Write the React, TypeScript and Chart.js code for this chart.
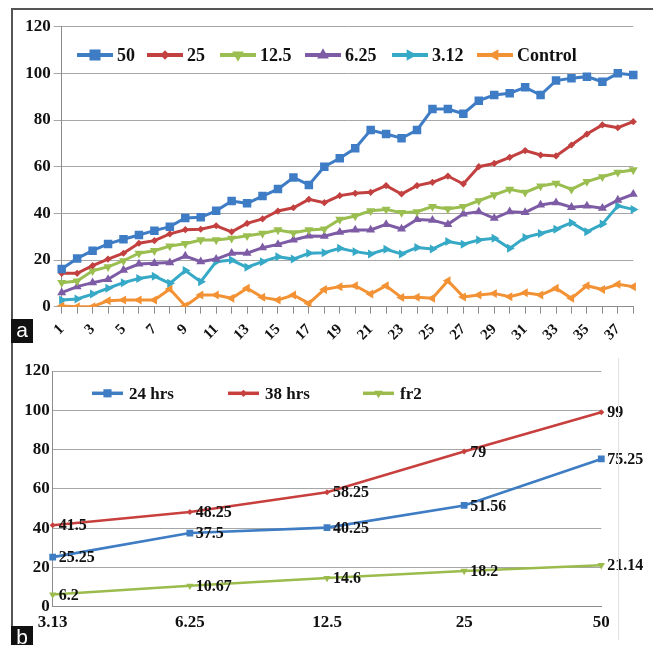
import React, { useEffect, useRef } from 'react';
import { Chart, registerables } from 'chart.js';

Chart.register(...registerables);

// ---------- Panel a data ----------
const daysA = ['1','2','3','4','5','6','7','8','9','10','11','12','13','14','15','16','17','18','19',
  '20','21','22','23','24','25','26','27','28','29','30','31','32','33','34','35','36','37','38'];

const series50 = [16.2, 20.7, 24, 26.9, 28.9, 30.7, 32.6, 34.3, 38, 38.3, 41.1, 45.3, 44.3, 47.4, 50.4, 55.4, 52.2, 60, 63.6,
  67.9, 75.7, 74, 72.2, 75.7, 84.7, 84.7, 82.7, 88.3, 90.7, 91.5, 94, 90.7, 96.9, 97.9, 98.6, 96.4, 100, 99.3];
const series25 = [14.3, 14.3, 17.6, 20.4, 22.9, 27.2, 28.3, 31.2, 33, 33.2, 34.7, 32.1, 35.7, 37.6, 41, 42.4, 46, 44.6, 47.6,
  48.6, 49, 51.9, 48.3, 51.9, 53.3, 56, 52.6, 60, 61.4, 64, 66.9, 65, 64.6, 69.3, 74, 77.9, 76.7, 79.3];
const series12_5 = [10.3, 11, 15.4, 17.1, 19.7, 22.9, 24, 26, 27, 28.6, 28.6, 29.3, 30.4, 31.4, 32.9, 31.7, 32.9, 33.3, 37.4,
  38.9, 41.1, 41.7, 40.3, 40.7, 42.9, 41.9, 42.9, 45.4, 47.9, 50.3, 49, 51.7, 52.9, 50.3, 53.6, 55.7, 57.6, 58.6];
const series6_25 = [6, 8.6, 10.3, 11.7, 15.7, 18.3, 18.6, 18.9, 21.7, 19.3, 20.4, 22.9, 22.9, 25.3, 26.7, 28.6, 30.3, 30.2, 31.9,
  32.9, 32.9, 35.3, 33.3, 37.4, 37.1, 35.3, 39.8, 40.7, 37.9, 40.7, 40.4, 43.6, 44.6, 42.6, 43.2, 42.2, 45.7, 48.2];
const series3_12 = [2.9, 3.3, 5.4, 7.9, 10.3, 12.1, 13.1, 10, 15.5, 10.7, 19.3, 20, 16.9, 19.3, 21.4, 20.4, 22.9, 23.1, 25,
  23.6, 22.6, 24.6, 22.6, 25.4, 24.7, 27.9, 26.8, 28.6, 29.3, 25, 29.7, 31.4, 33.2, 36, 32.1, 35.4, 43.2, 41.7];
const seriesControl = [0.3, 0, 0, 2.6, 2.9, 2.9, 2.9, 7.6, 0.3, 5, 5, 3.6, 7.9, 4, 2.9, 5, 1.4, 7.4, 8.6,
  9, 5.4, 9, 3.9, 4, 3.6, 11.1, 4.2, 5, 5.7, 4.3, 6, 5, 7.9, 3.6, 9, 7.4, 9.6, 8.6];
const namesA = ['50', '25', '12.5', '6.25', '3.12', 'Control'];

// ---------- Panel b data ----------
const concB = ['3.13', '6.25', '12.5', '25', '50'];
const hrs24 = [25.25, 37.5, 40.25, 51.56, 75.25];
const hrs38 = [41.5, 48.25, 58.25, 79, 99];
const fr2 = [6.2, 10.67, 14.6, 18.2, 21.14];
const namesB = ['24 hrs', '38 hrs', 'fr2'];

const FONT = '"Liberation Serif", "Times New Roman", serif';

function drawMarker(ctx: CanvasRenderingContext2D, style: string, rot: number, x: number, y: number, r: number, color: string) {
  ctx.save();
  ctx.fillStyle = color;
  ctx.beginPath();
  if (style === 'rect') {
    const s = Math.SQRT1_2 * r;
    ctx.rect(x - s, y - s, 2 * s, 2 * s);
  } else if (style === 'rectRot') {
    ctx.moveTo(x - r, y);
    ctx.lineTo(x, y - r);
    ctx.lineTo(x + r, y);
    ctx.lineTo(x, y + r);
    ctx.closePath();
  } else {
    let rad = (rot * Math.PI) / 180;
    ctx.moveTo(x + Math.sin(rad) * r, y - Math.cos(rad) * r);
    rad += (2 * Math.PI) / 3;
    ctx.lineTo(x + Math.sin(rad) * r, y - Math.cos(rad) * r);
    rad += (2 * Math.PI) / 3;
    ctx.lineTo(x + Math.sin(rad) * r, y - Math.cos(rad) * r);
    ctx.closePath();
  }
  ctx.fill();
  ctx.restore();
}

type LegendCfg = {
  y: number;
  starts: number[];
  sampleLen: number;
  textGap: number;
  font: string;
  lineWidth: number;
  markerScale: number;
};

function makeLegendPlugin(cfg: LegendCfg) {
  return {
    id: 'innerLegend',
    afterDraw(chart: any) {
      const ctx: CanvasRenderingContext2D = chart.ctx;
      chart.data.datasets.forEach((ds: any, i: number) => {
        const x0 = cfg.starts[i];
        const x1 = x0 + cfg.sampleLen;
        ctx.save();
        ctx.strokeStyle = ds.borderColor;
        ctx.lineWidth = cfg.lineWidth;
        ctx.beginPath();
        ctx.moveTo(x0, cfg.y);
        ctx.lineTo(x1, cfg.y);
        ctx.stroke();
        ctx.restore();
        drawMarker(ctx, ds.pointStyle, ds.pointRotation || 0, (x0 + x1) / 2, cfg.y, ds.pointRadius * cfg.markerScale, ds.borderColor);
        ctx.save();
        ctx.fillStyle = '#111';
        ctx.font = cfg.font;
        ctx.textAlign = 'left';
        ctx.textBaseline = 'middle';
        ctx.fillText(ds.label, x1 + cfg.textGap, cfg.y + 1);
        ctx.restore();
      });
    },
  };
}

const valueLabelPlugin = {
  id: 'valueLabels',
  afterDatasetsDraw(chart: any) {
    const ctx: CanvasRenderingContext2D = chart.ctx;
    ctx.save();
    ctx.fillStyle = '#111';
    ctx.font = `bold 16px ${FONT}`;
    ctx.textAlign = 'left';
    ctx.textBaseline = 'middle';
    chart.data.datasets.forEach((ds: any, i: number) => {
      const meta = chart.getDatasetMeta(i);
      meta.data.forEach((pt: any, j: number) => {
        ctx.fillText(String(ds.data[j]), pt.x + 6, pt.y + 1);
      });
    });
    ctx.restore();
  },
};

function ChartA() {
  const ref = useRef<HTMLCanvasElement>(null);
  useEffect(() => {
    if (!ref.current) return;
    const colors = ['#3E7CC5', '#C2403F', '#9BBE50', '#7E5CA5', '#36A9C6', '#F39234'];
    const styles = ['rect', 'rectRot', 'triangle', 'triangle', 'triangle', 'triangle'];
    const rots = [0, 0, 180, 0, 90, 270];
    const radii = [6, 3.6, 5.2, 5.2, 5.2, 5.2];
    const values = [series50, series25, series12_5, series6_25, series3_12, seriesControl];
    const chart = new Chart(ref.current, {
      type: 'line',
      data: {
        labels: daysA,
        datasets: values.map((d, i) => ({
          label: namesA[i],
          data: d,
          borderColor: colors[i],
          backgroundColor: colors[i],
          pointBackgroundColor: colors[i],
          pointBorderColor: colors[i],
          pointBorderWidth: 0,
          borderWidth: 3,
          pointStyle: styles[i],
          pointRotation: rots[i],
          pointRadius: radii[i],
          tension: 0,
          fill: false,
        })),
      },
      options: {
        responsive: false,
        maintainAspectRatio: false,
        animation: false,
        layout: { padding: { left: 0, right: 11.3, top: 26.7, bottom: 0 } },
        plugins: { legend: { display: false }, tooltip: { enabled: false } },
        scales: {
          x: {
            offset: false,
            afterFit: (s: any) => { s.height = 38.3; },
            grid: { display: true, drawOnChartArea: false, drawTicks: true, tickLength: 7, color: '#8c8c8c' },
            border: { color: '#8c8c8c', width: 1 },
            ticks: {
              autoSkip: false,
              maxRotation: 45,
              minRotation: 45,
              padding: 7,
              color: '#111',
              font: { family: FONT, size: 15, weight: 'bold' },
              callback: (_v: any, i: number) => (i % 2 === 0 ? daysA[i] : ''),
            },
          },
          y: {
            min: 0,
            max: 120,
            afterFit: (s: any) => { s.width = 61.7; },
            grid: { color: '#a6a6a6', tickLength: 8, drawTicks: true },
            border: { color: '#8c8c8c', width: 1 },
            ticks: {
              stepSize: 20,
              padding: 3,
              color: '#111',
              font: { family: FONT, size: 17, weight: 'bold' },
            },
          },
        },
      },
      plugins: [makeLegendPlugin({
        y: 55,
        starts: [77, 147, 220, 305, 392, 477],
        sampleLen: 36,
        textGap: 4,
        font: `bold 18px ${FONT}`,
        lineWidth: 4,
        markerScale: 1.3,
      })],
    } as any);
    return () => chart.destroy();
  }, []);
  return <canvas ref={ref} width={653} height={345} style={{ position: 'absolute', left: 0, top: 0 }} />;
}

function ChartB() {
  const ref = useRef<HTMLCanvasElement>(null);
  useEffect(() => {
    if (!ref.current) return;
    const colors = ['#3E7CC4', '#C8403E', '#9BBB4C'];
    const styles = ['rect', 'rectRot', 'triangle'];
    const rots = [0, 0, 180];
    const radii = [4.8, 3, 4.2];
    const values = [hrs24, hrs38, fr2];
    const chart = new Chart(ref.current, {
      type: 'line',
      data: {
        labels: concB,
        datasets: values.map((d, i) => ({
          label: namesB[i],
          data: d,
          borderColor: colors[i],
          backgroundColor: colors[i],
          pointBackgroundColor: colors[i],
          pointBorderColor: colors[i],
          pointBorderWidth: 0,
          borderWidth: 2.6,
          pointStyle: styles[i],
          pointRotation: rots[i],
          pointRadius: radii[i],
          tension: 0,
          fill: false,
        })),
      },
      options: {
        responsive: false,
        maintainAspectRatio: false,
        animation: false,
        layout: { padding: { left: 0, right: 51.7, top: 26, bottom: 0 } },
        plugins: { legend: { display: false }, tooltip: { enabled: false } },
        scales: {
          x: {
            offset: false,
            afterFit: (s: any) => { s.height = 38.3; },
            grid: { display: false, drawTicks: false },
            border: { color: '#8c8c8c', width: 1 },
            ticks: {
              autoSkip: false,
              maxRotation: 0,
              padding: 6,
              color: '#111',
              font: { family: FONT, size: 17, weight: 'bold' },
            },
          },
          y: {
            min: 0,
            max: 120,
            afterFit: (s: any) => { s.width = 52.7; },
            grid: { color: '#a6a6a6', drawTicks: false },
            border: { color: '#8c8c8c', width: 1 },
            ticks: {
              stepSize: 20,
              padding: 3,
              color: '#111',
              font: { family: FONT, size: 17, weight: 'bold' },
            },
          },
        },
      },
      plugins: [valueLabelPlugin, makeLegendPlugin({
        y: 48.3,
        starts: [92, 228, 363],
        sampleLen: 31,
        textGap: 6,
        font: `bold 17px ${FONT}`,
        lineWidth: 3.5,
        markerScale: 1.2,
      })],
    } as any);
    return () => chart.destroy();
  }, []);
  return <canvas ref={ref} width={653} height={300} style={{ position: 'absolute', left: 0, top: 0 }} />;
}

const panelTag: React.CSSProperties = {
  position: 'absolute',
  left: 11,
  width: 22,
  height: 24,
  background: '#111',
  color: '#fff',
  fontFamily: '"Liberation Sans", Arial, sans-serif',
  fontSize: 21,
  lineHeight: '22px',
  textAlign: 'center',
};

export default function App() {
  return (
    <div style={{ position: 'absolute', left: 0, top: 0, width: 653, height: 645, background: '#fff', overflow: 'hidden' }}>
      <div style={{ position: 'absolute', left: 0, top: 0, width: 653, height: 345 }}>
        <ChartA />
      </div>
      <div style={{ position: 'absolute', left: 0, top: 345, width: 653, height: 300 }}>
        <ChartB />
      </div>
      <div style={{ position: 'absolute', left: 11, top: 8, width: 642, height: 2, background: '#555' }} />
      <div style={{ position: 'absolute', left: 11, top: 8, width: 2, height: 637, background: '#555' }} />
      <div style={{ position: 'absolute', left: 618, top: 358, width: 1, height: 282, background: '#e2e2e2' }} />
      <div style={{ ...panelTag, top: 319 }}>a</div>
      <div style={{ ...panelTag, top: 626 }}>b</div>
    </div>
  );
}
